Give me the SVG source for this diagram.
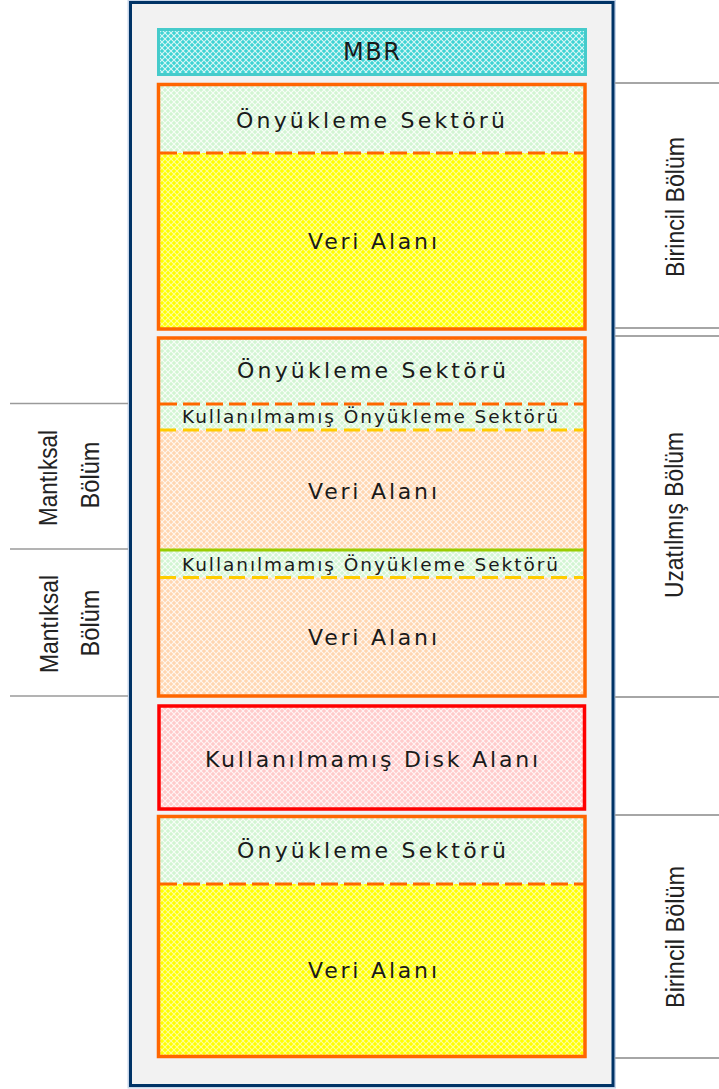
<svg xmlns="http://www.w3.org/2000/svg" width="719" height="1089" viewBox="0 0 719 1089">
<style>
.lbl{font-family:"DejaVu Sans","Liberation Sans",sans-serif;font-size:22px;fill:#1a1a1a}
.sm{font-size:18.5px}
.big{font-size:24px}
.side{font-family:"Liberation Sans",Arial,sans-serif;font-size:25px;fill:#222}
.box{stroke:#ff6600;stroke-width:3.5}
.dash-o{stroke:#ff6600;stroke-width:3;stroke-dasharray:17 6;fill:none}
.dash-y{stroke:#ffcc00;stroke-width:3;stroke-dasharray:16 7;fill:none}
.sep{stroke:#a6a6a6;stroke-width:2}
.sepl{stroke:#9a9a9a;stroke-width:1.5}
</style>
<defs>
<pattern id="pCyan" width="6" height="6" patternUnits="userSpaceOnUse"><rect width="6" height="6" fill="#3fd3d3"/><path d="M0,0L6,6M6,0L0,6" stroke="#ffffff" stroke-width="1.1" opacity="0.8"/></pattern>
<pattern id="pGreen" width="6" height="6" patternUnits="userSpaceOnUse"><rect width="6" height="6" fill="#d2f5d2"/><path d="M0,0L6,6M6,0L0,6" stroke="#ffffff" stroke-width="1.1" opacity="0.85"/></pattern>
<pattern id="pYellow" width="6" height="6" patternUnits="userSpaceOnUse"><rect width="6" height="6" fill="#ffff00"/><path d="M0,0L6,6M6,0L0,6" stroke="#ffffff" stroke-width="1.1" opacity="0.6"/></pattern>
<pattern id="pPeach" width="6" height="6" patternUnits="userSpaceOnUse"><rect width="6" height="6" fill="#ffd6b0"/><path d="M0,0L6,6M6,0L0,6" stroke="#ffffff" stroke-width="1.1" opacity="0.8"/></pattern>
<pattern id="pPink" width="6" height="6" patternUnits="userSpaceOnUse"><rect width="6" height="6" fill="#ffcaca"/><path d="M0,0L6,6M6,0L0,6" stroke="#ffffff" stroke-width="1.1" opacity="0.8"/></pattern>
</defs>
<rect width="719" height="1089" fill="#ffffff"/>

<g id="disk">
<rect x="129.5" y="1.5" width="484.5" height="1085" fill="none" stroke="#c8d6ea" stroke-width="4"/>
<rect x="130.5" y="2.5" width="482.5" height="1083" fill="#f2f2f2" stroke="#003366" stroke-width="3"/>
</g>

<g id="connectors">
<line class="sep" x1="615" y1="83" x2="719" y2="83"/>
<line class="sep" x1="615" y1="328" x2="719" y2="328"/>
<line class="sep" x1="615" y1="336" x2="719" y2="336"/>
<line class="sep" x1="615" y1="697" x2="719" y2="697"/>
<line class="sep" x1="615" y1="815" x2="719" y2="815"/>
<line class="sep" x1="615" y1="1058" x2="719" y2="1058"/>
<line class="sepl" x1="10" y1="403.5" x2="128" y2="403.5"/>
<line class="sepl" x1="10" y1="549" x2="128" y2="549"/>
<line class="sepl" x1="10" y1="696" x2="128" y2="696"/>
</g>

<g id="mbr">
<rect x="158.5" y="29.5" width="427" height="45" fill="url(#pCyan)" stroke="#46cbcb" stroke-width="3"/>
<text class="lbl big" x="343" y="60" textLength="57">MBR</text>
</g>

<g id="primary1">
<rect x="158.5" y="84.5" width="426.5" height="68" fill="url(#pGreen)"/>
<rect x="158.5" y="153" width="426.5" height="176" fill="url(#pYellow)"/>
<rect class="box" x="158.5" y="84.5" width="426.5" height="244.5" fill="none"/>
<line class="dash-o" x1="160" y1="153" x2="584" y2="153"/>
<text class="lbl" x="236" y="127.5" textLength="269">Önyükleme Sektörü</text>
<text class="lbl" x="308" y="248.5" textLength="129">Veri Alanı</text>
</g>

<g id="extended">
<rect x="158.5" y="338" width="426.5" height="66" fill="url(#pGreen)"/>
<rect x="158.5" y="404" width="426.5" height="26" fill="url(#pGreen)"/>
<rect x="158.5" y="430" width="426.5" height="120" fill="url(#pPeach)"/>
<rect x="158.5" y="550" width="426.5" height="27.5" fill="url(#pGreen)"/>
<rect x="158.5" y="577.5" width="426.5" height="118.5" fill="url(#pPeach)"/>
<rect class="box" x="158.5" y="338" width="426.5" height="358" fill="none"/>
<line class="dash-o" x1="160" y1="404" x2="584" y2="404"/>
<line class="dash-y" x1="160" y1="430" x2="584" y2="430"/>
<line x1="160" y1="550" x2="584" y2="550" stroke="#99cc00" stroke-width="3"/>
<line class="dash-y" x1="160" y1="577.5" x2="584" y2="577.5"/>
<text class="lbl" x="237" y="378" textLength="269">Önyükleme Sektörü</text>
<text class="lbl sm" x="182" y="423" textLength="376">Kullanılmamış Önyükleme Sektörü</text>
<text class="lbl" x="308" y="499" textLength="129">Veri Alanı</text>
<text class="lbl sm" x="182" y="570.5" textLength="376">Kullanılmamış Önyükleme Sektörü</text>
<text class="lbl" x="308" y="645" textLength="129">Veri Alanı</text>
</g>

<g id="unused">
<rect x="159" y="706" width="425.5" height="103" fill="url(#pPink)" stroke="#ff0000" stroke-width="3.5"/>
<text class="lbl" x="205" y="767" textLength="333">Kullanılmamış Disk Alanı</text>
</g>

<g id="primary2">
<rect x="158.5" y="816.5" width="426.5" height="67.5" fill="url(#pGreen)"/>
<rect x="158.5" y="884" width="426.5" height="172.5" fill="url(#pYellow)"/>
<rect class="box" x="158.5" y="816.5" width="426.5" height="240" fill="none"/>
<line class="dash-o" x1="160" y1="884" x2="584" y2="884"/>
<text class="lbl" x="237" y="858" textLength="269">Önyükleme Sektörü</text>
<text class="lbl" x="308" y="978" textLength="129">Veri Alanı</text>
</g>

<g id="label-primary1">
<text class="side" transform="translate(684,207) rotate(-90)" x="-70" y="0" textLength="140" lengthAdjust="spacingAndGlyphs">Birincil Bölüm</text>
</g>
<g id="label-extended">
<text class="side" transform="translate(683,515) rotate(-90)" x="-83" y="0" textLength="166" lengthAdjust="spacingAndGlyphs">Uzatılmış Bölüm</text>
</g>
<g id="label-primary2">
<text class="side" transform="translate(684,937) rotate(-90)" x="-71" y="0" textLength="142" lengthAdjust="spacingAndGlyphs">Birincil Bölüm</text>
</g>
<g id="label-logical1">
<text class="side" transform="translate(57,478) rotate(-90)" x="-48" y="0" textLength="96" lengthAdjust="spacingAndGlyphs">Mantıksal</text>
<text class="side" transform="translate(98.5,475) rotate(-90)" x="-33.5" y="0" textLength="67" lengthAdjust="spacingAndGlyphs">Bölüm</text>
</g>
<g id="label-logical2">
<text class="side" transform="translate(58,624) rotate(-90)" x="-49" y="0" textLength="98" lengthAdjust="spacingAndGlyphs">Mantıksal</text>
<text class="side" transform="translate(99,623) rotate(-90)" x="-33.5" y="0" textLength="67" lengthAdjust="spacingAndGlyphs">Bölüm</text>
</g>
</svg>
